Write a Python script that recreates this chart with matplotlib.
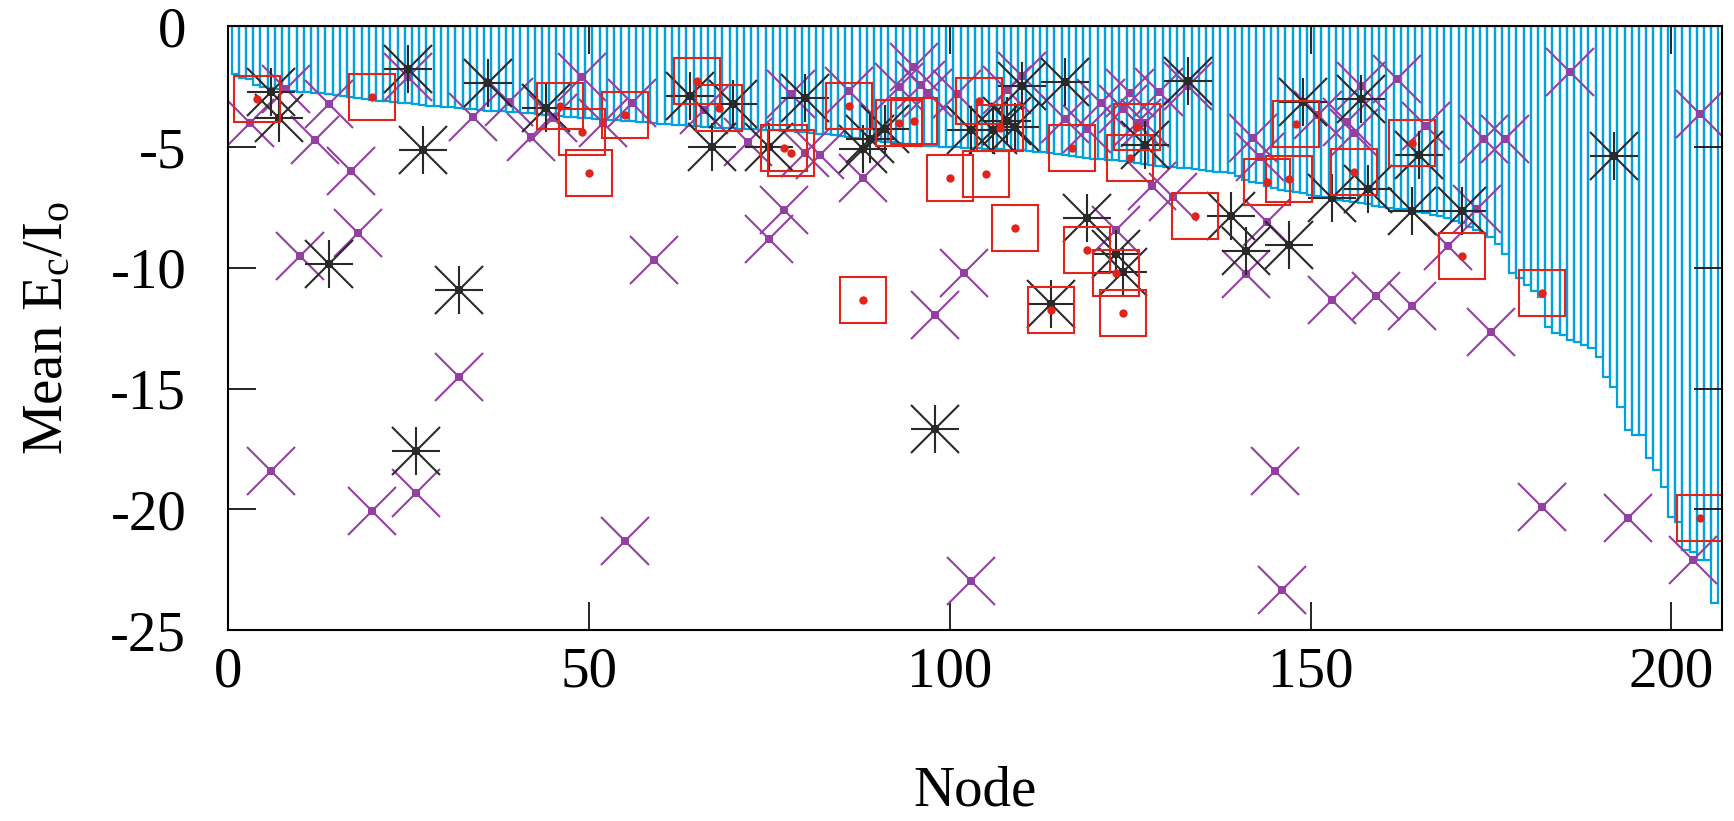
import matplotlib
matplotlib.use("Agg")
import matplotlib.pyplot as plt
import numpy as np

# ---------------- data ----------------
bar_values = [
    -1.97, -2.14, -2.19, -2.43, -2.5, -2.55, -2.6, -2.65, -2.67, -2.7,
    -2.72, -2.75, -2.77, -2.8, -2.85, -2.88, -2.93, -2.97, -3.02, -3.05,
    -3.08, -3.1, -3.13, -3.15, -3.18, -3.21, -3.25, -3.28, -3.31, -3.33,
    -3.35, -3.38, -3.41, -3.43, -3.46, -3.48, -3.5, -3.52, -3.54, -3.56,
    -3.58, -3.6, -3.63, -3.66, -3.68, -3.71, -3.74, -3.76, -3.78, -3.8,
    -3.82, -3.84, -3.86, -3.88, -3.9, -3.92, -3.94, -3.97, -4.0, -4.03,
    -4.05, -4.07, -4.09, -4.11, -4.14, -4.16, -4.18, -4.19, -4.21, -4.22,
    -4.23, -4.24, -4.26, -4.27, -4.28, -4.3, -4.32, -4.34, -4.37, -4.39,
    -4.41, -4.44, -4.47, -4.5, -4.54, -4.59, -4.63, -4.67, -4.71, -4.74,
    -4.77, -4.79, -4.83, -4.87, -4.91, -4.93, -4.95, -4.97, -4.99, -5.0,
    -5.01, -5.03, -5.04, -5.05, -5.07, -5.08, -5.09, -5.1, -5.11, -5.13,
    -5.15, -5.18, -5.21, -5.26, -5.3, -5.33, -5.36, -5.4, -5.44, -5.47,
    -5.5, -5.52, -5.55, -5.58, -5.6, -5.64, -5.68, -5.72, -5.76, -5.8,
    -5.82, -5.85, -5.88, -5.91, -5.94, -5.98, -6.01, -6.04, -6.08, -6.19,
    -6.34, -6.44, -6.49, -6.59, -6.69, -6.77, -6.81, -6.84, -6.91, -6.97,
    -7.02, -7.06, -7.12, -7.18, -7.22, -7.26, -7.32, -7.37, -7.42, -7.46,
    -7.5, -7.54, -7.58, -7.63, -7.67, -7.72, -7.8, -7.87, -7.95, -8.06,
    -8.16, -8.29, -8.41, -8.56, -8.74, -8.99, -9.42, -10.21, -10.43, -10.7,
    -10.94, -11.19, -12.43, -12.71, -12.76, -12.99, -13.06, -13.19, -13.33, -13.68,
    -14.51, -14.92, -15.75, -16.7, -16.92, -16.92, -17.88, -18.38, -19.06, -20.31,
    -20.51, -21.68, -21.75, -22.1, -22.1, -23.9,
]
bar_nodes = list(range(1, len(bar_values) + 1))

purple_x = [3, 6, 8, 10, 12, 14, 17, 18, 20, 25, 26, 32, 34, 39, 42, 45, 49, 52, 55, 56,
            59, 66, 72, 75, 77, 78, 80, 82, 86, 88, 93, 95, 96, 97, 98, 101, 102, 103,
            108, 110, 116, 119, 121, 123, 124, 125, 126, 127, 128, 129, 131, 133, 141,
            142, 143, 144, 145, 146, 151, 153, 155, 156, 157, 159, 162, 164, 166, 169,
            173, 174, 175, 177, 182, 186, 194, 203, 204]
purple_y = [-4.01, -18.41, -2.6, -9.51, -4.70, -3.22, -5.97, -8.54, -20.06, -2.08, -19.34,
            -14.51, -3.74, -3.14, -4.56, -3.80, -2.08, -3.98, -21.33, -3.16,
            -9.67, -3.45, -4.80, -8.80, -7.60, -2.80, -5.23, -5.32, -2.66, -6.29, -2.52,
            -1.69, -2.42, -2.77, -11.94, -2.81, -10.2, -22.97,
            -2.63, -2.04, -3.85, -4.25, -3.16, -8.43, -3.43, -2.77, -4.01, -3.98, -6.61,
            -2.70, -7.05, -2.46, -10.27,
            -4.63, -5.39, -8.08, -18.41, -23.34, -3.67, -11.33, -3.94, -4.42, -2.46,
            -11.15, -2.17, -11.57, -4.11, -9.09,
            -7.56, -4.66, -12.64, -4.66, -19.92, -1.90, -20.35, -22.1, -3.62]

black_x = [6, 7, 14, 25, 26, 27, 32, 36, 44, 64, 67, 70, 75, 80, 88, 89, 91, 98, 103, 106,
           108, 109, 110, 114, 116, 119, 123, 124, 127, 133, 139, 141, 147, 149, 153, 157,
           158, 164, 165, 171, 192]
black_y = [-2.70, -3.80, -9.83, -1.76, -17.59, -5.12, -10.92, -2.33, -3.39, -2.88, -5.01,
           -3.21, -4.98, -2.98, -5.07, -4.67, -4.26, -16.69, -4.29, -4.30,
           -3.90, -4.18, -2.46, -11.5, -2.29, -7.92, -9.44, -10.16, -4.91, -2.24, -7.85,
           -9.29, -9.05, -3.11, -7.12, -3.0,
           -6.75, -7.64, -5.32, -7.64, -5.35]

red_x = [4, 20, 46, 49, 50, 55, 65, 68, 77, 78, 86, 88, 93, 95, 100, 104, 105, 107, 109,
         114, 117, 119, 123, 124, 125, 126, 134, 144, 147, 148, 156, 164, 171, 182, 204]
red_y = [-2.99, -2.92, -3.29, -4.36, -6.06, -3.67, -2.26, -3.36, -5.05, -5.25, -3.29,
         -11.32, -4.00, -3.91, -6.26, -3.09, -6.12, -4.22, -8.36,
         -11.76, -5.02, -9.26, -10.2, -11.88, -5.43, -4.18, -7.85, -6.45, -6.33, -4.05,
         -6.04, -4.81, -9.49, -11.03, -20.35]

x_ticks = [0, 50, 100, 150, 200]
y_ticks = [0, -5, -10, -15, -20, -25]

# ---------------- style ----------------
plt.rcParams['font.family'] = ['Liberation Serif', 'DejaVu Serif']
plt.rcParams['mathtext.fontset'] = 'custom'
plt.rcParams['mathtext.rm'] = 'Liberation Serif'
plt.rcParams['mathtext.it'] = 'Liberation Serif:italic'
plt.rcParams['axes.unicode_minus'] = False

BLUE = '#00a2e0'
PURPLE = '#9440a2'
BLACK = '#2a2a2a'
RED = '#e2231a'

fig = plt.figure(figsize=(17.34, 8.21), dpi=100)
ax = fig.add_axes([228 / 1734, (821 - 630) / 821, (1722 - 228) / 1734, (630 - 26.5) / 821])

ax.bar(bar_nodes, bar_values, width=1.0, bottom=0, fill=False,
       edgecolor=BLUE, linewidth=1.6, zorder=1)

MS = 34
ax.plot(purple_x, purple_y, linestyle='none', marker='x', ms=MS, mew=1.5,
        color=PURPLE, zorder=3)
ax.plot(purple_x, purple_y, linestyle='none', marker='s', ms=5.5, mew=0,
        color=PURPLE, zorder=3)

ax.plot(black_x, black_y, linestyle='none', marker='x', ms=MS, mew=1.5,
        color=BLACK, zorder=4)
ax.plot(black_x, black_y, linestyle='none', marker='+', ms=MS, mew=1.5,
        color=BLACK, zorder=4)
ax.plot(black_x, black_y, linestyle='none', marker='s', ms=5.5, mew=0,
        color=BLACK, zorder=4)

ax.plot(red_x, red_y, linestyle='none', marker='s', ms=33, mew=1.5,
        markerfacecolor='none', markeredgecolor=RED, zorder=5)
ax.plot(red_x, red_y, linestyle='none', marker='o', ms=6, mew=0,
        color=RED, zorder=5)

ax.set_xlim(0, 207)
ax.set_ylim(-25, 0)
ax.set_xticks(x_ticks)
ax.set_yticks(y_ticks)
ax.set_xticklabels([str(v) for v in x_ticks])
ax.set_yticklabels([str(v) for v in y_ticks])

ax.tick_params(axis='both', direction='in', length=20, width=1.2, labelsize=41,
               top=True, right=True, colors='black')
ax.tick_params(axis='x', pad=12)
ax.tick_params(axis='y', pad=30)
for sp in ax.spines.values():
    sp.set_linewidth(1.5)
    sp.set_zorder(10)

ax.set_xlabel('Node', fontsize=41, labelpad=48)
ax.set_ylabel(r'Mean E$_\mathrm{c}$/I$_\mathrm{o}$', fontsize=41, labelpad=26)

fig.savefig('out.png', dpi=100)
